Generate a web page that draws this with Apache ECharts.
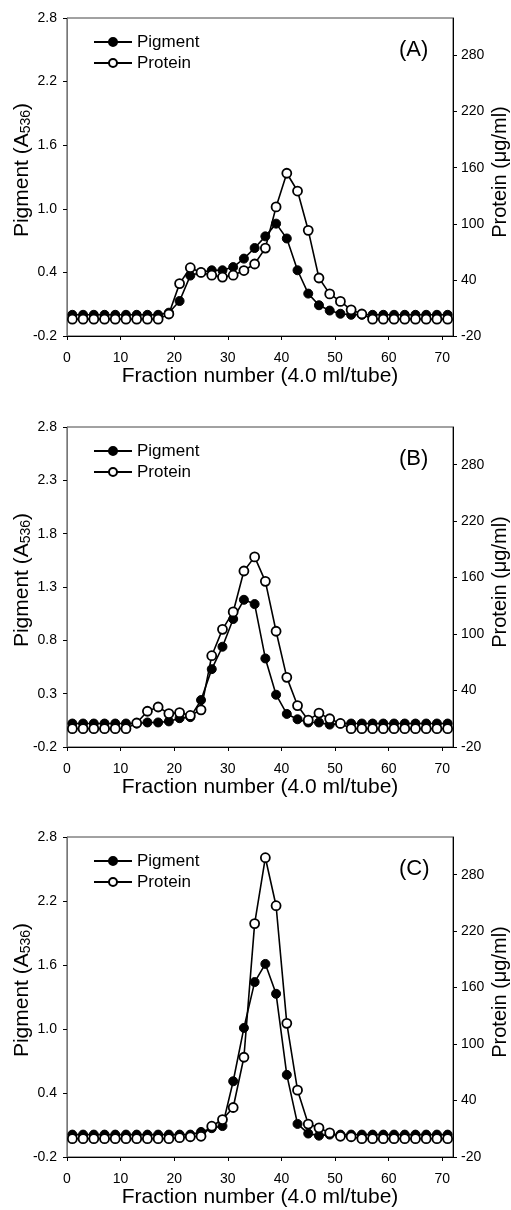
<!DOCTYPE html>
<html>
<head>
<meta charset="utf-8">
<script src="https://cdn.jsdelivr.net/npm/echarts@6/dist/echarts.min.js"></script>
<style>
  html, body { margin: 0; padding: 0; background: #fff; }
  #main { width: 511px; height: 1210px; }
</style>
</head>
<body>
<div id="main"></div>
<script>
// tube numbers (odd fractions, 4.0 ml/tube)
const fractions = [1, 3, 5, 7, 9, 11, 13, 15, 17, 19, 21, 23, 25, 27, 29, 31, 33, 35,
  37, 39, 41, 43, 45, 47, 49, 51, 53, 55, 57, 59, 61, 63, 65, 67, 69, 71];

// (A)
const pigmentA = [0, 0, 0, 0, 0, 0, 0, 0, 0, 0.02, 0.13, 0.37, 0.40, 0.42, 0.42, 0.45, 0.53, 0.63,
  0.74, 0.86, 0.72, 0.42, 0.20, 0.09, 0.04, 0.01, 0.00, 0, 0, 0, 0, 0, 0, 0, 0, 0];
const proteinA = [-2, -2, -2, -2, -2, -2, -2, -2, -2, 3.5, 36, 53, 48, 45, 43, 45, 50, 57,
  74, 118, 154, 135, 93, 42, 25, 17, 8, 3.5, -2, -2, -2, -2, -2, -2, -2, -2];

// (B)
const pigmentB = [0.02, 0.02, 0.02, 0.02, 0.02, 0.02, 0.02, 0.03, 0.03, 0.04, 0.07, 0.08, 0.24, 0.53, 0.74, 1.00, 1.18, 1.14,
  0.63, 0.29, 0.11, 0.06, 0.03, 0.03, 0.01, 0.02, 0.02, 0.02, 0.02, 0.02, 0.02, 0.02, 0.02, 0.02, 0.02, 0.02];
const proteinB = [-0.5, -0.5, -0.5, -0.5, -0.5, -0.5, 5.5, 18, 22.5, 15.5, 16.5, 13.5, 19.5, 77, 105, 123.5, 167, 182,
  156, 103, 54, 24, 8.5, 16, 10, 5, -0.5, -0.5, -0.5, -0.5, -0.5, -0.5, -0.5, -0.5, -0.5, -0.5];

// (C)
const pigmentC = [0.01, 0.01, 0.01, 0.01, 0.01, 0.01, 0.01, 0.01, 0.01, 0.01, 0.01, 0.01, 0.035, 0.07, 0.09, 0.51, 1.01, 1.44,
  1.61, 1.33, 0.57, 0.11, 0.02, 0.00, 0.01, 0.01, 0.01, 0.01, 0.01, 0.01, 0.01, 0.01, 0.01, 0.01, 0.01, 0.01];
const proteinC = [-0.5, -0.5, -0.5, -0.5, -0.5, -0.5, -0.5, -0.5, -0.5, -0.5, 0.5, 1.5, 2, 12.7, 19.8, 32.6, 86, 228,
  298, 247, 122, 51, 15, 11, 5.6, 2, 1.5, -0.5, -0.5, -0.5, -0.5, -0.5, -0.5, -0.5, -0.5, -0.5];

// tick labels
const xTicks = [0, 10, 20, 30, 40, 50, 60, 70];
const pigTicksAC = [-0.2, 0.4, 1.0, 1.6, 2.2, 2.8];
const pigTicksB = [-0.2, 0.3, 0.8, 1.3, 1.8, 2.3, 2.8];
const protTicks = [-20, 40, 100, 160, 220, 280];
const panelLabels = ['(A)', '(B)', '(C)'];

const font = 'Liberation Sans, Arial, Helvetica, sans-serif';
const gridTops = [18, 427, 837];
const gridHeights = [318, 320, 320];

const chart = echarts.init(document.getElementById('main'));

let grids = [], xAxes = [], yAxes = [], series = [], legends = [], texts = [];
const panels = [
  [pigmentA, proteinA, pigTicksAC],
  [pigmentB, proteinB, pigTicksB],
  [pigmentC, proteinC, pigTicksAC]
];

panels.forEach((p, i) => {
  grids.push({
    left: 67, width: 386, top: gridTops[i], height: gridHeights[i],
    containLabel: false, outerBoundsMode: 'none',
    show: true, borderColor: '#444', borderWidth: 1, backgroundColor: '#fff'
  });
  xAxes.push({
    type: 'value', gridIndex: i, min: 0, max: 72,
    name: 'Fraction number (4.0 ml/tube)', nameLocation: 'middle', nameGap: 30, nameMoveOverlap: false,
    nameTextStyle: { fontFamily: font, fontSize: 21, color: '#000' },
    axisLine: { onZero: false, lineStyle: { color: '#000', width: 1 } },
    axisTick: { inside: false, length: 4, customValues: xTicks, lineStyle: { color: '#000' } },
    axisLabel: { customValues: xTicks, margin: 15, fontFamily: font, fontSize: 14, color: '#000' },
    splitLine: { show: false }
  });
  yAxes.push({
    type: 'value', gridIndex: i, position: 'left', min: -0.2, max: 2.8,
    name: '{a|Pigment (A}{s|536}{a|)}', nameLocation: 'middle', nameGap: 34, nameMoveOverlap: false,
    nameTextStyle: {
      fontFamily: font, fontSize: 21, color: '#000', padding: [0, 0, 0, 14],
      rich: {
        a: { fontFamily: font, fontSize: 21, color: '#000' },
        s: { fontFamily: font, fontSize: 14, color: '#000', verticalAlign: 'bottom', padding: [7, 0, 0, 0] }
      }
    },
    axisLine: { onZero: false, lineStyle: { color: '#777', width: 1 } },
    axisTick: { length: 4, customValues: p[2], lineStyle: { color: '#000' } },
    axisLabel: {
      customValues: p[2], margin: 10, fontFamily: font, fontSize: 14, color: '#000',
      formatter: v => v.toFixed(1)
    },
    splitLine: { show: false }
  });
  yAxes.push({
    type: 'value', gridIndex: i, position: 'right', min: -20, max: 320,
    name: 'Protein (\u03bcg/ml)', nameLocation: 'middle', nameGap: 37, nameMoveOverlap: false,
    nameTextStyle: { fontFamily: font, fontSize: 20, color: '#000', padding: [0, 0, 0, 10] },
    axisLine: { onZero: false, lineStyle: { color: '#000', width: 1 } },
    axisTick: { length: 4, customValues: protTicks, lineStyle: { color: '#000' } },
    axisLabel: {
      customValues: protTicks, margin: 8, fontFamily: font, fontSize: 14, color: '#000',
      formatter: v => String(Math.round(v))
    },
    splitLine: { show: false }
  });

  series.push({
    name: 'Pigment', type: 'line', xAxisIndex: i, yAxisIndex: 2 * i,
    data: fractions.map((f, k) => [f, p[0][k]]),
    symbol: 'circle', symbolSize: 9,
    lineStyle: { color: '#000', width: 1.6 },
    itemStyle: { color: '#000', borderColor: '#000', borderWidth: 1 },
    animation: false, z: 2
  });
  series.push({
    name: 'Protein', type: 'line', xAxisIndex: i, yAxisIndex: 2 * i + 1,
    data: fractions.map((f, k) => [f, p[1][k]]),
    symbol: 'circle', symbolSize: 9,
    lineStyle: { color: '#000', width: 1.6 },
    itemStyle: { color: '#fff', borderColor: '#000', borderWidth: 1.8 },
    animation: false, z: 3
  });

  legends.push({
    data: ['Pigment', 'Protein'], orient: 'vertical',
    left: 93, top: gridTops[i] + 15, padding: 0,
    itemWidth: 38, itemHeight: 10, itemGap: 3,
    textStyle: { fontFamily: font, fontSize: 17, color: '#000', lineHeight: 18 },
    selectedMode: false
  });

  texts.push({
    type: 'text', left: 399, top: gridTops[i] + 21,
    style: { text: panelLabels[i], font: '22px ' + font, fill: '#000' }
  });
});

chart.setOption({
  animation: false,
  backgroundColor: '#fff',
  grid: grids,
  xAxis: xAxes,
  yAxis: yAxes,
  legend: legends,
  series: series,
  graphic: texts
});
</script>
</body>
</html>
